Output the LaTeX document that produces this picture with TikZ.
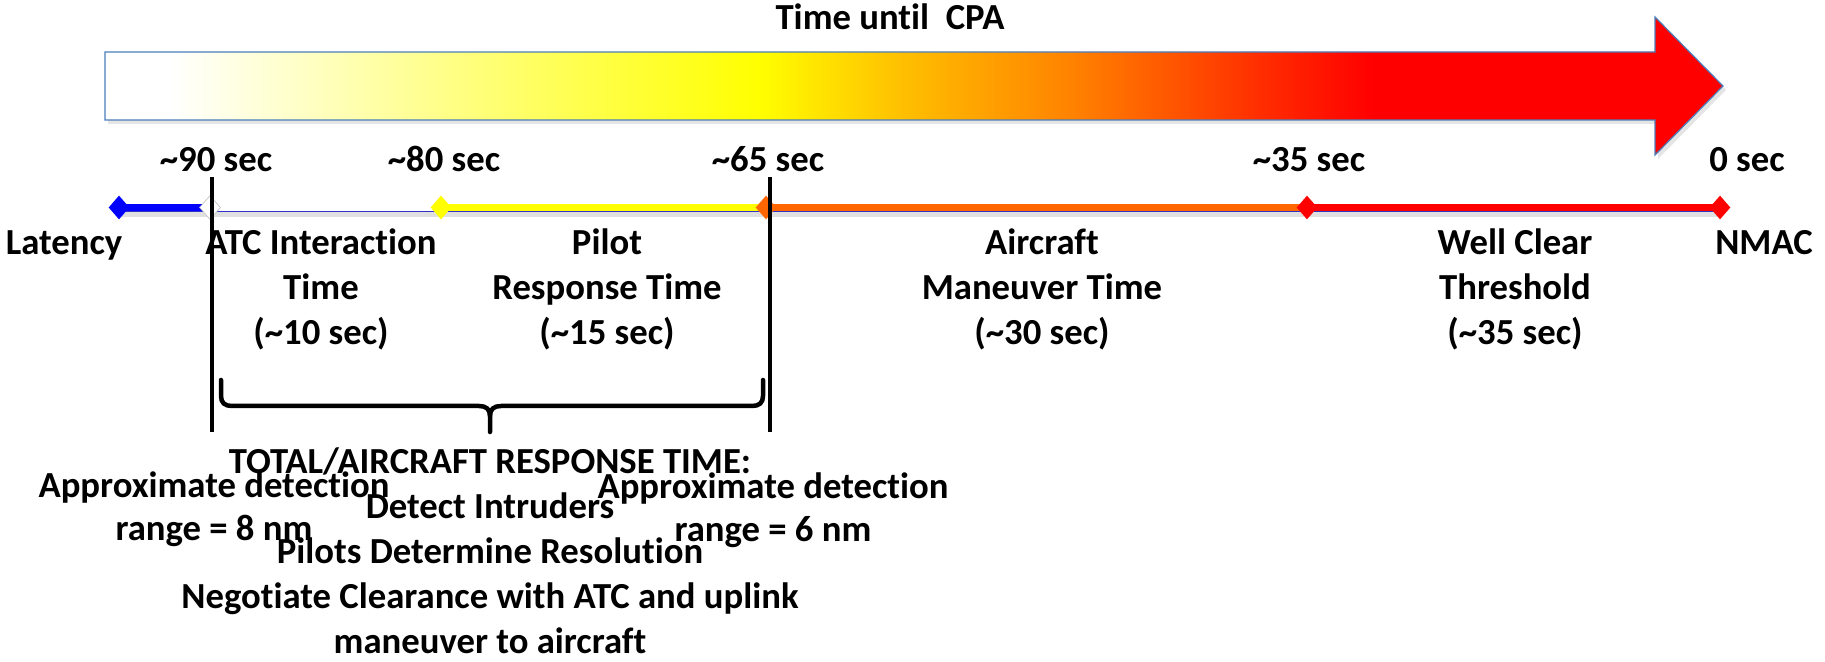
\documentclass[tikz,border=0pt]{standalone}
\usepackage{fontspec}
\setmainfont{Carlito}[Ligatures={NoCommon}]
\usetikzlibrary{shapes.geometric}
\definecolor{edgeblue}{RGB}{74,126,187}
\definecolor{ylw}{RGB}{255,255,0}
\definecolor{orgA}{RGB}{255,192,0}
\definecolor{orgB}{RGB}{255,128,0}
\definecolor{orgC}{RGB}{255,48,0}
\definecolor{redR}{RGB}{255,0,0}
\definecolor{segorange}{RGB}{255,102,0}
\definecolor{segblue}{RGB}{0,0,255}
\definecolor{lineblue}{RGB}{50,50,200}
\begin{document}
\begin{tikzpicture}[x=0.5pt,y=-0.5pt,
  lbl/.style={font=\fontsize{18.35}{22.5}\selectfont\bfseries, inner sep=0pt, anchor=base, align=center},
  seg/.style={line width=3.25pt, draw=#1},
  gem/.style={diamond, fill=#1, minimum width=10.5pt, minimum height=12pt, inner sep=0pt},
  vline/.style={line width=2.25pt, draw=black},
  bracestyle/.style={line width=2.25pt, draw=black, line cap=round, line join=round},
  arrowedge/.style={draw=edgeblue, line width=0.6pt}]
\useasboundingbox (0,0) rectangle (1825,662);
\fill[white] (0,0) rectangle (1825,662);

% big gradient arrow
\fill[black, opacity=0.10] (108,56) -- (1658,56) -- (1658,21) -- (1726,90) -- (1658,159) -- (1658,124) -- (108,124) -- cycle;
\begin{scope}
\clip (105,52) -- (1655,52) -- (1655,17) -- (1723,86) -- (1655,155) -- (1655,120) -- (105,120) -- cycle;
\fill[white] (100,10) rectangle (171,160);
\shade[left color=white,right color=ylw] (170,10) rectangle (759,160);
\shade[left color=ylw,right color=orgA] (758,10) rectangle (901,160);
\shade[left color=orgA,right color=orgB] (900,10) rectangle (1078,160);
\shade[left color=orgB,right color=orgC] (1077,10) rectangle (1255,160);
\shade[left color=orgC,right color=redR] (1254,10) rectangle (1373,160);
\fill[redR] (1372,10) rectangle (1730,160);
\end{scope}
\draw[arrowedge] (105,52) -- (1655,52) -- (1655,17) -- (1723,86) -- (1655,155) -- (1655,120) -- (105,120) -- cycle;
\node[lbl] (title) at (890,30) {Time until\ \ CPA};

% timeline
\coordinate (p0) at (119,207.5);
\coordinate (p1) at (210,207.5);
\coordinate (p2) at (441,207.5);
\coordinate (p3) at (766,207.5);
\coordinate (p4) at (1307,207.5);
\coordinate (p5) at (1720,207.5);
\draw[black, opacity=0.12, line width=3pt] ([yshift=-3.5pt]p0) -- ([yshift=-3.5pt]p5);
\draw[lineblue, line width=0.9pt] ([yshift=-1.9pt]p0) -- ([yshift=-1.9pt]p5);
\draw[seg=segblue] (p0) -- (p1);
\draw[seg=white] (p1) -- (p2);
\draw[seg=ylw] (p2) -- (p3);
\draw[seg=segorange] (p3) -- (p4);
\draw[seg=redR] (p4) -- (p5);
\node[gem=segblue] (g0) at (p0) {};
\node[gem=white, draw=black!25, line width=0.3pt] (g1) at (p1) {};
\node[gem=ylw] (g2) at (p2) {};
\node[gem=segorange] (g3) at (p3) {};
\node[gem=redR] (g4) at (p4) {};
\node[gem=redR] (g5) at (p5) {};

% tick labels
\node[lbl] (t90) at (216,172) {\textasciitilde 90 sec};
\node[lbl] (t80) at (444,172) {\textasciitilde 80 sec};
\node[lbl] (t65) at (768,172) {\textasciitilde 65 sec};
\node[lbl] (t35) at (1309,172) {\textasciitilde 35 sec};
\node[lbl] (t0) at (1747,172) {0 sec};

% segment labels (base = last line)
\node[lbl] (latency) at (64,255) {Latency};
\node[lbl] (atc) at (321,345) {ATC Interaction\\Time\\(\textasciitilde 10 sec)};
\node[lbl] (pilot) at (607,345) {Pilot\\Response Time\\(\textasciitilde 15 sec)};
\node[lbl] (aircraft) at (1042,345) {Aircraft\\Maneuver Time\\(\textasciitilde 30 sec)};
\node[lbl] (wellclear) at (1515,345) {Well Clear\\Threshold\\(\textasciitilde 35 sec)};
\node[lbl] (nmac) at (1764,255) {NMAC};

% vertical markers
\coordinate (v1t) at (212,177);
\coordinate (v1b) at (212,432);
\coordinate (v2t) at (770,177);
\coordinate (v2b) at (770,432);
\draw[vline] (v1t) -- (v1b);
\draw[vline] (v2t) -- (v2b);

% brace
\coordinate (bl) at (221,380);
\coordinate (br) at (763,380);
\coordinate (bm) at (490,432);
\draw[bracestyle] (bl) -- (221,396) .. controls (221,403) and (225,406) .. (232,406) -- (479,406) .. controls (486,406) and (490,409) .. (490,416) -- (bm);
\draw[bracestyle] (br) -- (763,396) .. controls (763,403) and (759,406) .. (752,406) -- (501,406) .. controls (494,406) and (490,409) .. (490,416);

% bottom texts (base = last line)
\node[lbl] (total) at (490,653) {TOTAL/AIRCRAFT RESPONSE TIME:\\Detect Intruders\\Pilots Determine Resolution\\Negotiate Clearance with ATC and uplink\\maneuver to aircraft};
\node[lbl, font=\fontsize{18.35}{21.5}\selectfont\bfseries] (range8) at (214,540) {Approximate detection\\range = 8 nm};
\node[lbl, font=\fontsize{18.35}{21.5}\selectfont\bfseries] (range6) at (773,541) {Approximate detection\\range = 6 nm};
\end{tikzpicture}
\end{document}
